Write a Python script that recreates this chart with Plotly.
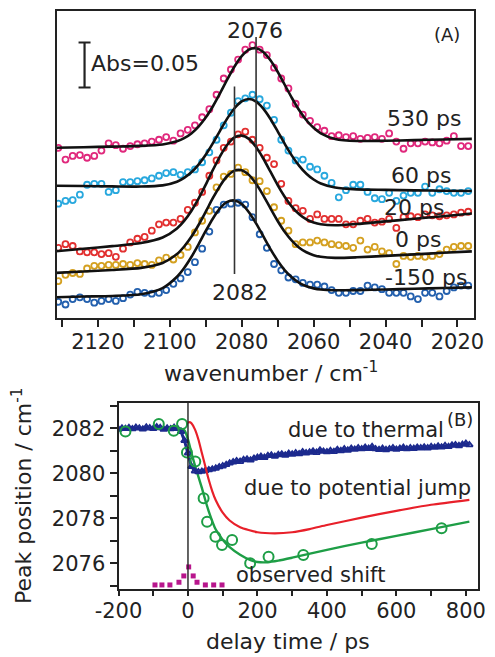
import plotly.graph_objects as go

# ---------------- data: panel (A) ----------------
# measured points, every 2 cm-1 (absorbance, mAbs, offset per delay)
WN_POINTS = list(range(2131, 2016, -2))
PTS_530 = [189, 176, 180, 181, 178, 180, 186, 194, 192, 188,
           191, 193, 194, 196, 198, 201, 197, 205, 209, 214,
           223, 232, 248, 266, 276, 287, 298, 303, 298, 292,
           278, 266, 255, 238, 226, 219, 212, 208, 202, 203,
           201, 202, 199, 200, 201, 199, 205, 196, 188, 194,
           194, 196, 195, 194, 197, 202, 191, 191]
PTS_60 = [127, 130, 131, 137, 148, 149, 149, 140, 142, 151,
          151, 152, 153, 155, 158, 161, 162, 159, 162, 165,
          173, 184, 198, 214, 228, 241, 244, 248, 243, 236,
          220, 198, 186, 175, 176, 168, 165, 158, 150, 134,
          142, 148, 148, 140, 133, 132, 139, 130, 136, 139,
          139, 146, 139, 143, 141, 139, 139, 141]
PTS_20 = [78, 82, 80, 74, 73, 73, 71, 72, 68, 77,
          84, 88, 90, 97, 104, 106, 106, 110, 120, 128,
          140, 158, 175, 189, 196, 204, 207, 198, 189, 178,
          171, 149, 130, 122, 119, 110, 115, 110, 110, 110,
          104, 104, 108, 110, 106, 107, 110, 100, 112, 113,
          112, 115, 114, 113, 114, 115, 117, 118]
PTS_0 = [41, 48, 50, 49, 55, 58, 58, 59, 59, 60,
         59, 61, 60, 59, 64, 67, 65, 70, 79, 95,
         108, 119, 145, 157, 160, 167, 162, 153, 152, 141,
         123, 108, 97, 82, 84, 84, 86, 84, 82, 81,
         80, 78, 86, 76, 79, 74, 72, 60, 69, 68,
         69, 68, 69, 71, 76, 79, 80, 80]
PTS_M150 = [18, 15, 21, 23, 21, 17, 19, 21, 19, 22,
            26, 29, 28, 27, 28, 31, 38, 44, 51, 62,
            77, 96, 120, 126, 127, 128, 126, 112, 93, 78,
            60, 53, 45, 43, 39, 37, 37, 35, 31, 28,
            28, 30, 30, 36, 34, 32, 28, 28, 28, 24,
            21, 28, 28, 24, 30, 34, 36, 36]

# fitted curves
FIT_WN = [2132, 2124, 2116, 2108, 2102, 2098, 2096, 2094, 2092, 2090, 2088, 2086,
          2084, 2082, 2080, 2078, 2076, 2074, 2072, 2070, 2068, 2066, 2064, 2062,
          2060, 2058, 2054, 2048, 2040, 2032, 2024, 2016]
FIT_530 = [189.0, 189.7, 190.4, 191.2, 192.8, 196.3, 199.7, 205.0, 212.6, 222.6, 235.2, 249.7,
           265.0, 279.3, 290.9, 298.1, 299.6, 295.5, 286.3, 273.5, 258.8, 244.1, 230.7, 219.7,
           211.3, 205.2, 198.9, 196.6, 196.9, 197.6, 198.3, 199.0]
FIT_60 = [147.0, 146.6, 146.2, 146.0, 147.3, 151.4, 155.6, 161.8, 170.4, 181.3, 194.2, 208.2,
          221.7, 233.0, 240.6, 243.2, 240.4, 232.6, 221.1, 207.4, 193.2, 180.1, 169.0, 160.2,
          153.8, 149.4, 144.9, 142.9, 142.3, 141.8, 141.4, 141.0]
FIT_20 = [74.0, 76.9, 79.8, 83.3, 89.4, 99.5, 107.9, 118.9, 132.5, 148.1, 164.5, 179.9,
          192.5, 200.5, 202.6, 199.0, 189.9, 177.2, 162.5, 147.7, 134.5, 123.5, 115.3, 109.6,
          106.1, 104.1, 103.0, 104.4, 107.3, 110.2, 113.1, 116.0]
FIT_0 = [50.0, 51.7, 53.3, 55.7, 61.1, 71.0, 79.4, 90.2, 103.3, 118.1, 133.3, 147.0,
         157.7, 163.7, 164.1, 159.0, 149.1, 136.2, 121.8, 107.8, 95.5, 85.6, 78.1, 73.0,
         69.8, 68.0, 66.8, 67.4, 69.0, 70.7, 72.4, 74.0]
FIT_M150 = [23.0, 23.8, 24.5, 26.4, 33.2, 45.8, 55.5, 67.7, 81.8, 96.7, 110.6, 122.0,
            129.0, 130.5, 126.6, 117.5, 105.1, 90.9, 76.6, 63.7, 53.0, 44.9, 39.0, 35.2,
            32.9, 31.6, 30.8, 31.0, 31.7, 32.5, 33.3, 34.0]

DELAY_LABELS = ["530 ps", "60 ps", "20 ps", "0 ps", "-150 ps"]
SERIES_COLORS = ["#e0287c", "#28a8de", "#e23030", "#d4a020", "#2360ae"]
PEAK_MARKS = [2082, 2076]
SCALE_BAR_MABS = 50
WN_TICKS = [2120, 2100, 2080, 2060, 2040, 2020]

# ---------------- data: panel (B) ----------------
T_THERMAL = list(range(-200, 811, 10))
V_THERMAL = [2081.95, 2082.00, 2081.98, 2082.02, 2081.97, 2082.03, 2082.00, 2081.96, 2082.04, 2082.01,
             2081.98, 2082.05, 2082.02, 2081.95, 2082.00, 2081.97, 2082.03, 2081.98, 2081.85, 2081.45,
             2080.90, 2080.30, 2080.10, 2080.06, 2080.08, 2080.12, 2080.15, 2080.18, 2080.22, 2080.28,
             2080.32, 2080.38, 2080.45, 2080.50, 2080.55, 2080.52, 2080.60, 2080.62, 2080.58, 2080.66,
             2080.70, 2080.74, 2080.70, 2080.78, 2080.80, 2080.75, 2080.82, 2080.85, 2080.80, 2080.88,
             2080.84, 2080.90, 2080.86, 2080.95, 2080.90, 2080.93, 2080.98, 2080.92, 2081.02, 2080.97,
             2080.95, 2081.00, 2080.96, 2081.05, 2081.00, 2081.08, 2081.02, 2081.10, 2081.06, 2081.12,
             2081.08, 2081.15, 2081.10, 2081.18, 2081.08, 2081.05, 2081.10, 2081.04, 2081.08, 2081.12,
             2081.06, 2081.10, 2081.14, 2081.08, 2081.12, 2081.10, 2081.15, 2081.12, 2081.16, 2081.12,
             2081.18, 2081.15, 2081.20, 2081.16, 2081.22, 2081.18, 2081.24, 2081.26, 2081.22, 2081.28,
             2081.32, 2081.26]

T_JUMP = [0, 5, 10, 20, 30, 40, 50, 60, 70, 80, 100, 120, 150, 200, 250, 300, 350, 400, 500, 600, 700, 810]
V_JUMP = [2082.25, 2082.27, 2082.22, 2081.95, 2081.5, 2080.9, 2080.3, 2079.7, 2079.2, 2078.8, 2078.25,
          2077.9, 2077.6, 2077.38, 2077.33, 2077.38, 2077.52, 2077.7, 2078.03, 2078.33, 2078.6, 2078.82]

T_OBS_FIT = [-200, -100, -30, -10, 0, 10, 20, 30, 40, 50, 60, 80, 100, 120, 150, 180, 200, 230,
             260, 300, 400, 500, 600, 700, 810]
V_OBS_FIT = [2082.0, 2082.0, 2082.0, 2081.9, 2081.5, 2080.9, 2080.35, 2079.85, 2079.35, 2078.8,
             2078.3, 2077.5, 2077.05, 2076.72, 2076.38, 2076.14, 2076.06, 2076.05, 2076.12, 2076.25,
             2076.6, 2076.92, 2077.22, 2077.52, 2077.85]

T_OBS = [-180, -84, -41, -17, -3, 21, 45, 55, 79, 98, 127, 179, 232, 332, 529, 730]
V_OBS = [2081.85, 2082.19, 2081.89, 2082.19, 2080.92, 2080.52, 2078.89, 2077.85, 2077.18,
         2076.81, 2077.04, 2076.0, 2076.29, 2076.37, 2076.86, 2077.56]

T_IRF = [-95, -75, -52, -26, -12, 2, 15, 26, 50, 74, 98]
V_IRF = [2075.04, 2075.04, 2075.04, 2075.16, 2075.44, 2075.84, 2075.44, 2075.16, 2075.04,
         2075.04, 2075.04]

T_TICKS = [-200, 0, 200, 400, 600, 800]
T_TICKTEXT = ["-200", "0", "200", "400", "600", "800"]
T_MINOR = [-100, 100, 300, 500, 700]

# ---------------- figure ----------------
# the page body keeps an 8 px margin, so the figure is drawn 8 px smaller
OFF = 8
W, H = 495 - OFF, 657 - OFF
FONT = "DejaVu Sans"
INK = "#222222"


def px(x):
    return (x - OFF) / W


def py(y):
    return 1 - (y - OFF) / H


fig = go.Figure()

series_pts = [PTS_530, PTS_60, PTS_20, PTS_0, PTS_M150]
series_fit = [FIT_530, FIT_60, FIT_20, FIT_0, FIT_M150]

for lab, pts, col in zip(DELAY_LABELS, series_pts, SERIES_COLORS):
    fig.add_trace(go.Scatter(
        x=WN_POINTS, y=pts, mode="markers", name=lab, showlegend=False,
        marker=dict(symbol="circle-open", size=6, color=col, line=dict(width=1.8, color=col)),
        xaxis="x", yaxis="y"))
for lab, fit in zip(DELAY_LABELS, series_fit):
    fig.add_trace(go.Scatter(
        x=FIT_WN, y=fit, mode="lines", name=lab + " fit", showlegend=False,
        line=dict(color="#111111", width=2.6, shape="spline", smoothing=0.7),
        xaxis="x", yaxis="y"))

# scale bar (Abs = 0.05)
fig.add_trace(go.Scatter(
    x=[2123.7], y=[306 - SCALE_BAR_MABS / 2], mode="markers", showlegend=False,
    marker=dict(size=1, color="rgba(0,0,0,0)"),
    error_y=dict(type="constant", value=SCALE_BAR_MABS / 2, width=6, thickness=2.2, color=INK),
    xaxis="x", yaxis="y"))

# peak marker lines
fig.add_shape(type="line", xref="x", yref="y", x0=PEAK_MARKS[0], x1=PEAK_MARKS[0], y0=49, y1=257,
              line=dict(color="#333333", width=1.6))
fig.add_shape(type="line", xref="x", yref="y", x0=PEAK_MARKS[1], x1=PEAK_MARKS[1], y0=106, y1=312,
              line=dict(color="#333333", width=1.6))

# panel B traces
fig.add_trace(go.Scatter(
    x=T_OBS_FIT, y=V_OBS_FIT, mode="lines", name="observed fit", showlegend=False,
    line=dict(color="#1e9e46", width=2.4, shape="spline", smoothing=0.6), xaxis="x2", yaxis="y2"))
fig.add_trace(go.Scatter(
    x=T_THERMAL, y=V_THERMAL, mode="lines+markers", name="due to thermal", showlegend=False,
    line=dict(color="#1c2a8e", width=3),
    marker=dict(symbol="triangle-up-open", size=6, color="#1c2a8e", line=dict(width=1.8, color="#1c2a8e")),
    xaxis="x2", yaxis="y2"))
fig.add_trace(go.Scatter(
    x=T_JUMP, y=V_JUMP, mode="lines", name="due to potential jump", showlegend=False,
    line=dict(color="#e8202a", width=2.2, shape="spline", smoothing=0.6), xaxis="x2", yaxis="y2"))
fig.add_trace(go.Scatter(
    x=T_OBS, y=V_OBS, mode="markers", name="observed shift", showlegend=False,
    marker=dict(symbol="circle-open", size=10, color="#1e9e46", line=dict(width=2, color="#1e9e46")),
    xaxis="x2", yaxis="y2"))
fig.add_trace(go.Scatter(
    x=T_IRF, y=V_IRF, mode="markers", name="pulse", showlegend=False, cliponaxis=False,
    marker=dict(symbol="square", size=5, color="#b8168c"), xaxis="x2", yaxis="y2"))

fig.add_shape(type="line", xref="x2", yref="y2 domain", x0=0, x1=0, y0=0, y1=1,
              line=dict(color="#222222", width=1.4))

tickfont = dict(family=FONT, size=21, color=INK)
common = dict(showgrid=False, zeroline=False, showline=True, mirror=True,
              linecolor=INK, linewidth=2, automargin=False)

fig.update_layout(
    template="none",
    width=W, height=H, margin=dict(l=0, r=0, t=0, b=0, pad=0, autoexpand=False),
    paper_bgcolor="white", plot_bgcolor="white",
    font=dict(family=FONT, color=INK),
    xaxis=dict(domain=[px(56.5), px(474)], range=[2131.5, 2015.4], anchor="y",
               tickmode="array", tickvals=WN_TICKS, tickformat="d",
               ticks="outside", ticklen=7, tickwidth=1.6, tickcolor=INK, tickfont=tickfont,
               ticklabelstandoff=-3,
               minor=dict(dtick=10, tick0=2020, ticks="outside", ticklen=7, tickwidth=1.6, tickcolor=INK),
               **common),
    yaxis=dict(domain=[py(318), py(11)], range=[0, 341], anchor="x",
               showticklabels=False, ticks="", **common),
    xaxis2=dict(domain=[px(118.5), px(477.7)], range=[-200, 834], anchor="y2",
                tickmode="array", tickvals=T_TICKS, ticktext=T_TICKTEXT,
                ticks="outside", ticklen=5, tickwidth=1.6, tickcolor=INK, tickfont=tickfont,
                ticklabelstandoff=-3,
                minor=dict(tickvals=T_MINOR, ticks="outside", ticklen=5, tickwidth=1.6, tickcolor=INK),
                **common),
    yaxis2=dict(domain=[py(589), py(403)], range=[2074.86, 2083.12], anchor="x2",
                tickmode="linear", tick0=2076, dtick=2, tickformat="d",
                ticks="outside", ticklen=7, tickwidth=1.6, tickcolor=INK, tickfont=tickfont,
                minor=dict(dtick=1, tick0=2075, ticks="outside", ticklen=7, tickwidth=1.6, tickcolor=INK),
                **common),
)

ann = []


def text(x, y, s, size=21, xanchor="center", angle=0):
    ann.append(dict(x=px(x), y=py(y), xref="paper", yref="paper", text=s, showarrow=False,
                    xanchor=xanchor, yanchor="middle", textangle=angle,
                    font=dict(family=FONT, size=size, color=INK)))


# panel A texts
text(255, 31, "2076", 22)
text(240, 292, "2082", 22)
text(447, 35, "(A)", 18)
text(89, 63, "Abs=0.05", 22, xanchor="left")
label_pos = [(463, 118), (453, 175), (446, 208), (443, 240), (469, 277)]
for lab, (lx, ly) in zip(DELAY_LABELS, label_pos):
    text(lx, ly, lab, 22, xanchor="right")
text(271, 372, "wavenumber / cm<sup>-1</sup>", 22)

# panel B texts
text(366, 430, "due to thermal", 21)
text(460, 420, "(B)", 18)
text(357, 488, "due to potential jump", 21)
text(310, 575, "observed shift", 21)
text(288, 641, "delay time / ps", 22)
text(22, 496, "Peak position / cm<sup>-1</sup>", 22, angle=-90)

fig.update_layout(annotations=ann)

fig.write_html("out.html")
